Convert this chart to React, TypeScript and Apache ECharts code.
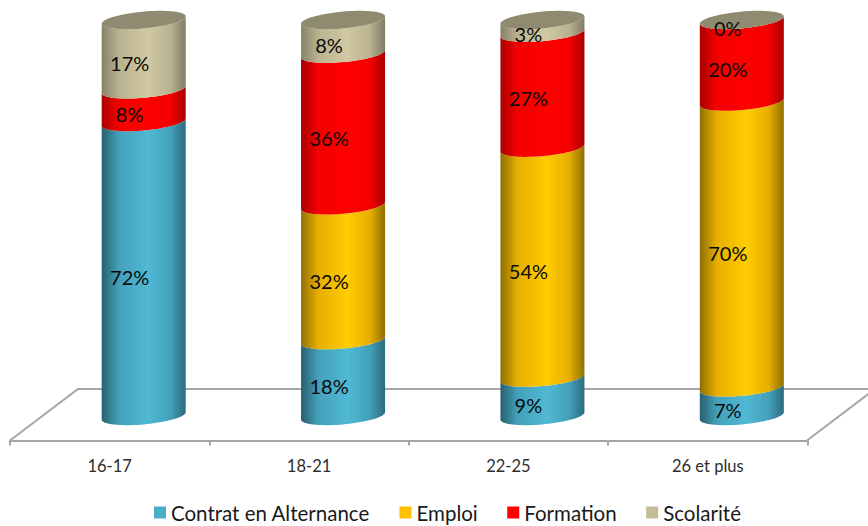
import React, { useEffect, useRef } from "react";
import * as echarts from "echarts";

const categories = ["16-17", "18-21", "22-25", "26 et plus"];
const contrat = [72, 18, 9, 7];
const emploi = [null, 32, 54, 70];
const formation = [8, 36, 27, 20];
const scolarite = [17, 8, 3, 0];

const seriesNames = ["Contrat en Alternance", "Emploi", "Formation", "Scolarité"];
const seriesValues = [contrat, emploi, formation, scolarite];
const legendColors = ["#4BACC6", "#FFC000", "#FF0000", "#C4BD97"];
const shades = [
  ["#28606f", "#43a0b9", "#50b9d4", "#43a0b9", "#2c6b7e"],
  ["#8f6f00", "#e6ae00", "#ffcc00", "#e6ae00", "#8f6f00"],
  ["#a80000", "#f40000", "#ff0000", "#f40000", "#a80000"],
  ["#86826a", "#b8b290", "#d0c9a1", "#b8b290", "#807c65"],
];
const capColor = "#8f8b70";

const HALF_WIDTH = 42;
const DEPTH = 34;
const RY = 8.4;
const SKEW = 3.7;
const LABEL_SHIFT = -14;
const LABEL_DROP = 8;

// Every column is normalised to its own total, as a 100% stacked chart does.
const totals = categories.map((_, i) =>
  seriesValues.reduce((sum, values) => sum + (values[i] ?? 0), 0)
);

function seriesData(seriesIndex: number) {
  return categories.map((_, i) => {
    let below = 0;
    for (let s = 0; s < seriesIndex; s++) below += seriesValues[s][i] ?? 0;
    const raw = seriesValues[seriesIndex][i];
    const start = (below / totals[i]) * 100;
    const end = ((below + (raw ?? 0)) / totals[i]) * 100;
    return [i, start, end, raw === null ? -1 : raw];
  });
}

// Front half of the slanted ellipse that closes the cylinder at height y.
function frontArc(cx: number, y: number, reverse: boolean) {
  const pts: number[][] = [];
  const n = 40;
  for (let k = 0; k <= n; k++) {
    const t = (Math.PI * k) / n;
    pts.push([
      cx + HALF_WIDTH * Math.cos(t),
      y + RY * Math.sin(t) - SKEW * Math.cos(t),
    ]);
  }
  return reverse ? pts.reverse() : pts;
}

function fullEllipse(cx: number, y: number) {
  const pts: number[][] = [];
  const n = 80;
  for (let k = 0; k < n; k++) {
    const t = (2 * Math.PI * k) / n;
    pts.push([
      cx + HALF_WIDTH * Math.cos(t),
      y + RY * Math.sin(t) - SKEW * Math.cos(t),
    ]);
  }
  return pts;
}

function makeRenderItem(seriesIndex: number) {
  return (_params: any, api: any) => {
    const raw = api.value(3);
    if (raw < 0) return { type: "group", children: [] };
    const cx = api.coord([api.value(0), 0])[0] + DEPTH;
    const yLow = api.coord([0, api.value(1)])[1];
    const yHigh = api.coord([0, api.value(2)])[1];
    const stops = shades[seriesIndex];
    const children: any[] = [
      {
        type: "polygon",
        shape: { points: [...frontArc(cx, yLow, false), ...frontArc(cx, yHigh, true)] },
        style: {
          fill: {
            type: "linear",
            x: 0,
            y: 0,
            x2: 1,
            y2: 0,
            colorStops: [
              { offset: 0, color: stops[0] },
              { offset: 0.2, color: stops[1] },
              { offset: 0.55, color: stops[2] },
              { offset: 0.82, color: stops[3] },
              { offset: 1, color: stops[4] },
            ],
          },
        },
      },
    ];
    if (seriesIndex === seriesValues.length - 1) {
      children.push({
        type: "polygon",
        shape: { points: fullEllipse(cx, yHigh) },
        style: { fill: capColor },
      });
    }
    return { type: "group", children };
  };
}

function makeLabelItem(_params: any, api: any) {
  const raw = api.value(3);
  if (raw < 0) return { type: "group", children: [] };
  const cx = api.coord([api.value(0), 0])[0] + DEPTH;
  const mid = api.coord([0, (api.value(1) + api.value(2)) / 2])[1];
  return {
    type: "text",
    z2: 10,
    style: {
      x: cx + LABEL_SHIFT,
      y: mid + LABEL_DROP,
      text: `${raw}%`,
      fill: "#0a0a0a",
      font: '20px Lato, "Open Sans", sans-serif',
      align: "center",
      verticalAlign: "middle",
    },
  };
}

export default function App() {
  const ref = useRef<HTMLDivElement>(null);

  useEffect(() => {
    document.body.style.margin = "0";
    const chart = echarts.init(ref.current!, undefined, { renderer: "svg" });
    const floorStroke = { stroke: "#a6a6a6", lineWidth: 2, fill: "none" };
    chart.setOption({
      animation: false,
      backgroundColor: "#ffffff",
      grid: { left: 10, width: 797.5, top: 20, height: 396, containLabel: false },
      xAxis: {
        type: "category",
        data: categories,
        offset: 24.5,
        axisLine: { onZero: false, lineStyle: { color: "#a6a6a6", width: 2 } },
        axisTick: {
          show: true,
          alignWithLabel: false,
          length: 5,
          lineStyle: { color: "#a6a6a6", width: 2 },
        },
        axisLabel: { color: "#2e2e2e", fontSize: 16.5, fontFamily: "Lato", margin: 17 },
      },
      yAxis: { type: "value", min: 0, max: 100, show: false },
      legend: {
        left: 149,
        top: 497,
        itemWidth: 12,
        itemHeight: 12,
        itemGap: 29.5,
        icon: "rect",
        textStyle: { color: "#1a1a1a", fontSize: 20.5, fontFamily: "Lato" },
        data: seriesNames.map((name, i) => ({
          name,
          itemStyle: { color: legendColors[i] },
        })),
      },
      graphic: [
        {
          type: "polyline",
          z: 0,
          shape: { points: [[10, 440.5], [78, 389], [875, 389], [807, 440.5]] },
          style: floorStroke,
        },
      ],
      series: [
        ...seriesNames.map((name, i) => ({
          type: "custom",
          name,
          z: 2 + i,
          clip: false,
          itemStyle: { color: legendColors[i] },
          encode: { x: 0, y: [1, 2] },
          data: seriesData(i),
          renderItem: makeRenderItem(i),
        })),
        ...seriesNames.map((name, i) => ({
          type: "custom",
          name: `${name} (valeurs)`,
          z: 10,
          clip: false,
          encode: { x: 0, y: [1, 2] },
          data: seriesData(i),
          renderItem: makeLabelItem,
        })),
      ],
    });
    return () => chart.dispose();
  }, []);

  return <div ref={ref} style={{ width: 868, height: 526 }} />;
}
